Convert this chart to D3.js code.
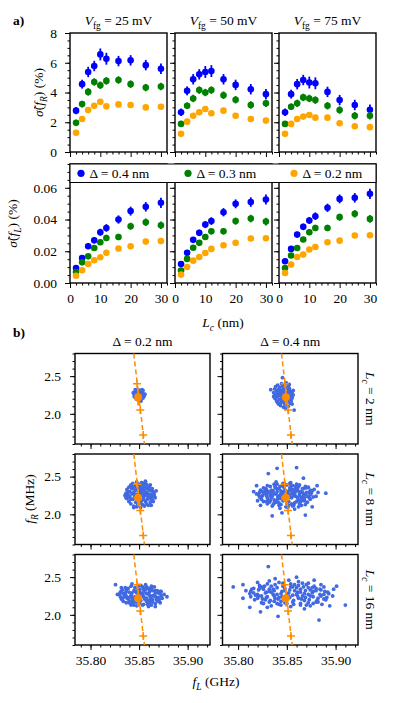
<!DOCTYPE html>
<html>
<head>
<meta charset="utf-8">
<script src="https://cdn.jsdelivr.net/npm/d3@7"></script>
<style>
  body { margin: 0; background: #fff; }
  svg, svg text { font-family: "Liberation Serif", "DejaVu Serif", serif; }
</style>
</head>
<body>
<svg id="chart" width="395" height="703" font-family="Liberation Serif, DejaVu Serif, serif"></svg>
<script>
// ---- panel a) data: channel length L_c (nm) ----
const lengths = [2, 4, 6, 8, 10, 12, 16, 20, 25, 30]
const gateLabels = ['25', '50', '75']
const deltaLabels = ['0.4', '0.3', '0.2']
const deltaColors = ['#0000ff', '#008000', '#ffa500']

// relative spread of f_R (%) per gate voltage and disorder amplitude
const fR25d04 = [2.78, 4.56, 5.38, 5.78, 6.56, 6.27, 6.11, 6.16, 5.84, 5.60]
const fR25d03 = [1.96, 3.22, 4.04, 4.71, 4.49, 4.78, 4.84, 4.56, 4.33, 4.40]
const fR25d02 = [1.29, 2.22, 2.82, 3.11, 3.38, 3.07, 3.20, 3.16, 3.00, 3.04]
const fR50d04 = [2.67, 4.11, 4.89, 5.22, 5.38, 5.44, 4.89, 4.51, 4.22, 3.89]
const fR50d03 = [1.89, 3.11, 3.60, 4.16, 4.00, 4.16, 3.82, 3.51, 3.16, 3.27]
const fR50d02 = [1.22, 2.04, 2.44, 2.67, 2.89, 2.60, 2.78, 2.44, 2.22, 2.11]
const fR75d04 = [2.67, 3.89, 4.56, 4.84, 4.67, 4.62, 4.04, 3.49, 3.16, 2.84]
const fR75d03 = [1.89, 3.04, 3.27, 3.67, 3.60, 3.49, 3.11, 2.82, 2.44, 2.44]
const fR75d02 = [1.22, 1.89, 2.22, 2.38, 2.49, 2.31, 2.31, 1.93, 1.73, 1.67]
const errFRd04 = [0.25, 0.3, 0.35, 0.35, 0.4, 0.4, 0.35, 0.35, 0.35, 0.35]
const errFRd03 = [0.2, 0.22, 0.25, 0.25, 0.25, 0.25, 0.25, 0.25, 0.25, 0.25]
const errFRd02 = [0.08, 0.1, 0.1, 0.12, 0.12, 0.12, 0.12, 0.12, 0.12, 0.12]

// relative spread of f_L (%)
const fL25d04 = [0.0095, 0.0158, 0.0232, 0.0269, 0.0320, 0.0347, 0.0400, 0.0453, 0.0480, 0.0505]
const fL25d03 = [0.0069, 0.0130, 0.0168, 0.0221, 0.0257, 0.0284, 0.0290, 0.0358, 0.0383, 0.0364]
const fL25d02 = [0.0046, 0.0080, 0.0120, 0.0143, 0.0162, 0.0190, 0.0217, 0.0232, 0.0261, 0.0265]
const fL50d04 = [0.0120, 0.0190, 0.0272, 0.0316, 0.0368, 0.0390, 0.0446, 0.0499, 0.0510, 0.0526]
const fL50d03 = [0.0078, 0.0152, 0.0222, 0.0253, 0.0290, 0.0326, 0.0326, 0.0390, 0.0406, 0.0387]
const fL50d02 = [0.0053, 0.0101, 0.0141, 0.0164, 0.0189, 0.0215, 0.0238, 0.0253, 0.0280, 0.0282]
const fL75d04 = [0.0137, 0.0215, 0.0305, 0.0354, 0.0394, 0.0421, 0.0474, 0.0530, 0.0537, 0.0562]
const fL75d03 = [0.0095, 0.0173, 0.0221, 0.0274, 0.0320, 0.0347, 0.0347, 0.0415, 0.0436, 0.0404]
const fL75d02 = [0.0063, 0.0116, 0.0164, 0.0179, 0.0211, 0.0227, 0.0257, 0.0267, 0.0299, 0.0301]
const errFLd04 = [0.0012, 0.0015, 0.0018, 0.002, 0.0022, 0.0024, 0.0026, 0.0028, 0.003, 0.0032]
const errFLd03 = [0.001, 0.0012, 0.0014, 0.0016, 0.0018, 0.002, 0.002, 0.0022, 0.0024, 0.0024]
const errFLd02 = [0.0005, 0.0006, 0.0007, 0.0008, 0.0008, 0.0009, 0.0009, 0.001, 0.001, 0.001]

// ---- panel b) data ----
const bRowLabels = ['2', '8', '16']
const bColLabels = ['0.2', '0.4']
// cloud centres [f_L GHz, f_R MHz]; offsets below are [dfL in MHz, dfR in 10 kHz]
const cloudCentreL2d02 = [35.850, 2.25]
const cloudCentreL2d04 = [35.8465, 2.25]
const cloudCentreL8d02 = [35.8515, 2.26]
const cloudCentreL8d04 = [35.849, 2.26]
const cloudCentreL16d02 = [35.8517, 2.26]
const cloudCentreL16d04 = [35.852, 2.28]

const cloudL2d02 = [[-5, 1], [-4, -3], [-4, 4], [-3, 6], [-3, -1], [-2, -6], [-2, 2], [-1, 7], [-1, -3], [0, 0], [0, 5], [0, -7],
  [1, 3], [1, -2], [2, 6], [2, -5], [2, 1], [3, -1], [3, 4], [4, -4], [4, 2], [5, 0], [5, -2], [-1, 1], [1, -5], [-3, -5],
  [3, 7], [-5, -2], [6, 1], [-2, -1], [0, -3], [2, -8], [-4, 7], [-6, 3], [4, 6]]
const cloudL2d04 = [[-10, 3], [-9, -4], [-9, 8], [-8, 0], [-8, 11], [-7, -8], [-7, 5], [-6, -2], [-6, 13], [-5, -12], [-5, 7],
  [-5, 1], [-4, -6], [-4, 10], [-3, -14], [-3, 3], [-3, -1], [-2, 15], [-2, -9], [-2, 6], [-1, -4], [-1, 12], [-1, 0],
  [0, -16], [0, 8], [0, -7], [0, 3], [1, 14], [1, -11], [1, -2], [2, 5], [2, -13], [2, 10], [3, -5], [3, 1], [3, 16],
  [4, -9], [4, 7], [4, -1], [5, 12], [5, -15], [5, 3], [6, -6], [6, 9], [7, -2], [7, -11], [7, 5], [8, 1], [8, -8],
  [9, 4], [9, -4], [10, 0], [-1, 23], [11, -20], [-13, 7], [-6, -10], [2, -18], [6, 14], [-8, -5], [9, -12], [-10, -2], [10, 6],
  [-7, 1], [-4, 3], [-1, -7], [2, 2], [5, -3], [8, -1], [-6, 6], [3, -8], [0, 10], [-3, -11], [6, 6], [-9, -1], [1, 7], [-2, -1]]
const cloudL8d02 = [[-15, 2], [-14, -5], [-14, 7], [-13, 0], [-12, 10], [-12, -9], [-11, 4], [-11, -3], [-10, 13], [-10, -12],
  [-9, 1], [-9, 8], [-8, -6], [-8, 15], [-7, -15], [-7, 3], [-6, 11], [-6, -2], [-5, -10], [-5, 6], [-4, 17], [-4, -16],
  [-4, 0], [-3, 9], [-3, -7], [-2, 3], [-2, 14], [-2, -12], [-1, -3], [-1, 7], [0, -17], [0, 11], [0, 0], [1, -8], [1, 16],
  [1, 4], [2, -13], [2, 8], [2, -2], [3, 13], [3, -5], [3, 1], [4, -15], [4, 10], [4, 5], [5, -9], [5, -1], [6, 14],
  [6, -12], [6, 3], [7, 8], [7, -6], [8, -14], [8, 1], [8, 11], [9, -3], [9, 6], [10, -10], [10, 13], [11, 0], [11, -6],
  [12, 8], [12, -2], [13, 4], [13, -9], [14, 1], [15, -4], [16, 5], [-16, -1], [5, 18], [-7, -17], [11, -14],
  [-13, 4], [-10, -6], [-7, 8], [-4, -9], [-1, 4], [2, -6], [5, 9], [8, -4], [11, 5], [14, -2], [-12, -2], [-6, 0],
  [0, -11], [6, 0], [12, -7], [-9, 11], [9, 10], [-3, -14], [3, 15], [-15, -4]]
const cloudL8d04 = [[-10, 17], [-3, 15], [5, 16], [11, 14],
  [-19, 12], [-12, 14], [-6, 11], [1, 13], [7, 12], [14, 13], [20, 11],
  [-23, 9], [-16, 11], [-9, 8], [-2, 10], [4, 9], [10, 11], [17, 8], [23, 10],
  [-26, 6], [-20, 7], [-13, 5], [-7, 8], [-1, 6], [6, 7], [12, 5], [18, 8], [25, 6],
  [-27, 3], [-21, 5], [-15, 2], [-9, 4], [-3, 3], [3, 5], [9, 2], [15, 4], [21, 3], [27, 5],
  [-28, 0], [-22, 2], [-16, -1], [-10, 1], [-4, 0], [2, 2], [8, -1], [14, 1], [20, 0], [26, 2],
  [-27, -3], [-20, -1], [-14, -2], [-8, -4], [-2, -1], [4, -3], [10, -2], [16, -4], [22, -2], [28, -3],
  [-25, -6], [-19, -4], [-12, -7], [-6, -5], [0, -6], [6, -4], [13, -7], [19, -5], [25, -6],
  [-23, -9], [-16, -8], [-10, -10], [-3, -8], [3, -9], [9, -11], [16, -8], [22, -10],
  [-19, -12], [-12, -11], [-5, -13], [1, -12], [8, -14], [14, -12], [20, -13],
  [-14, -15], [-7, -14], [0, -16], [7, -15], [13, -16], [-6, -18], [2, -17], [9, -19],
  [-24, 4], [-18, -7], [-11, 9], [-5, 2], [0, -2], [5, 11], [11, -9], [17, 3], [-15, 6], [-8, -2], [3, 0], [12, 8],
  [-20, -9], [24, -4], [-1, 14], [6, -12], [-30, 1], [31, -2], [-33, 4], [33, 3], [-29, -8], [29, 7],
  [-24, -1], [-18, 4], [-12, 1], [-6, -1], [0, 4], [6, 1], [12, -4], [18, -1], [24, 3], [-21, 8], [-15, -4], [-9, -7],
  [-3, 12], [3, -14], [9, 7], [15, -9], [21, 9], [-17, -10], [-11, 11], [-5, 5], [1, -9], [7, 3], [13, 11], [19, -8],
  [-25, -3], [25, 0], [-7, -11], [5, 6], [-13, -13], [16, -14], [-2, -4], [10, 5], [-19, 2], [4, 15], [-9, 14], [14, -1],
  [41, 2], [11, 36], [-14, -28], [20, -27], [-18, 28], [-9, 35], [-4, -24], [18, 22], [-30, 12], [27, -16], [-26, -14], [32, 12]]
const cloudL16d02 = [[-9, 15], [-2, 13], [5, 14], [11, 12],
  [-16, 10], [-10, 12], [-4, 10], [2, 11], [8, 9], [14, 11],
  [-19, 7], [-13, 9], [-7, 6], [-1, 8], [5, 7], [11, 9], [17, 6],
  [-21, 4], [-15, 5], [-9, 3], [-3, 6], [3, 4], [9, 5], [15, 3], [21, 5],
  [-22, 1], [-16, 2], [-10, 0], [-4, 3], [2, 1], [8, 2], [14, 0], [20, 2],
  [-21, -2], [-15, -1], [-9, -3], [-3, -1], [3, -2], [9, 0], [15, -2], [21, -1],
  [-20, -5], [-14, -4], [-8, -6], [-2, -4], [4, -5], [10, -3], [16, -6], [22, -4],
  [-18, -8], [-12, -7], [-6, -9], [0, -7], [6, -8], [12, -6], [18, -8],
  [-15, -10], [-9, -11], [-3, -10], [3, -12], [9, -10], [15, -11],
  [-10, -13], [-4, -14], [2, -13], [8, -15],
  [-12, 4], [-6, -2], [0, 2], [6, -4], [12, 6], [18, -3], [-17, -2], [4, 9], [-1, -11], [11, -13], [-24, 1], [24, 1],
  [-18, 2], [-12, -3], [-6, 5], [0, -2], [6, 2], [12, -1], [18, 3], [-15, 7], [-9, -8], [-3, -6], [3, 8], [9, -7],
  [15, 6], [-19, -4], [19, -6], [-6, 10], [6, 11], [-12, -10], [12, -9], [0, 13], [-1, 5], [-7, -13], [7, -12], [-20, 5], [20, 5],
  [-26, 14], [15, -15], [27, -2], [-20, 10], [20, -10]]
const cloudL16d04 = [[-20, 17], [-10, 15], [0, 18], [10, 16], [20, 14],
  [-30, 11], [-22, 13], [-14, 12], [-6, 10], [2, 13], [10, 11], [18, 12], [26, 10], [33, 12],
  [-36, 7], [-28, 9], [-20, 6], [-12, 8], [-4, 7], [4, 9], [12, 6], [20, 8], [28, 7], [36, 9],
  [-39, 3], [-31, 5], [-23, 2], [-15, 4], [-7, 3], [1, 5], [9, 2], [17, 4], [25, 3], [33, 5], [40, 2],
  [-40, 0], [-32, -1], [-24, 1], [-16, -1], [-8, 0], [0, 1], [8, -1], [16, 0], [24, 1], [32, -1], [41, 0],
  [-39, -4], [-31, -3], [-23, -5], [-15, -3], [-7, -4], [1, -5], [9, -3], [17, -5], [25, -4], [33, -3], [39, -5],
  [-35, -8], [-27, -7], [-19, -9], [-11, -7], [-3, -8], [5, -9], [13, -7], [21, -8], [29, -9], [36, -7],
  [-28, -12], [-20, -11], [-12, -13], [-4, -12], [4, -11], [12, -13], [20, -12], [28, -11],
  [-18, -16], [-8, -15], [2, -17], [12, -15], [22, -16],
  [-26, 6], [-18, 2], [-10, -5], [-2, -1], [6, 4], [14, -3], [22, 5], [30, -6], [-34, -2], [-5, 11], [5, -14], [15, 9],
  [-15, -10], [25, -13], [-25, 10], [37, 3], [-44, 4], [45, -3], [-47, -6], [46, 6], [-14, 20], [8, 22], [26, 18],
  [-32, 15], [34, -14], [-22, -18], [16, -20],
  [-36, 1], [-28, -3], [-20, 3], [-12, -1], [-4, 4], [4, -2], [12, 2], [20, -1], [28, 4], [36, -1], [-32, -6], [-24, -8],
  [-16, 6], [-8, -10], [0, -4], [8, 8], [16, -9], [24, 8], [32, 6], [-30, 7], [-18, 10], [-6, 14], [6, 12], [18, -15],
  [-26, -13], [-10, -14], [10, -6], [30, -11], [-38, 6], [38, -8], [-2, -13], [14, 14], [-22, -4], [22, -3], [-14, -6], [2, 9],
  [-57, 9], [58, -15], [49, 10], [-21, 36], [31, -35], [-40, -18], [-29, -24], [-11, -30], [-47, 12], [42, -16]]

// orange model line, sweep markers and mean (same in every b) panel)
const lineFL = [35.8445, 35.8555]
const lineFR = [2.8, 1.6]
const sweepFL = [35.8478, 35.8512, 35.8542]
const sweepFR = [2.40, 2.05, 1.72]
const meanFL = 35.849
const meanFR = 2.22
const meanErrFR = 0.11

// ---- tick values ----
const lcTicks = [0, 10, 20, 30]
const lcMinor = [2, 4, 6, 8, 12, 14, 16, 18, 22, 24, 26, 28, 32]
const fRPctTicks = [0, 2, 4, 6, 8]
const fLPctTicks = [0, 0.02, 0.04, 0.06]
const fLTicks = [35.80, 35.85, 35.90]
const fRTicks = [2.0, 2.5]

const FS = 13.5
const FONT = 'Liberation Serif, DejaVu Serif, serif'
const svg = d3.select('#chart')

// text with italic parts and subscripts, parts = [[string, kind]]
function richText (parent, parts, size) {
  const t = parent.append('text').attr('font-size', size).attr('font-family', FONT).attr('fill', '#000')
  let shift = 0
  parts.forEach(([s, kind]) => {
    const sub = kind.includes('sub')
    const sp = t.append('tspan').text(s)
    if (kind === 'i' || kind === 'isub') sp.attr('font-style', 'italic')
    if (sub) sp.attr('font-size', size * 0.7)
    const target = sub ? size * 0.3 : 0
    if (target !== shift) { sp.attr('dy', target - shift); shift = target }
  })
  return t
}

function styleAxis (sel) {
  sel.select('.domain').remove()
  sel.attr('font-family', FONT).attr('font-size', FS)
  sel.selectAll('line').attr('stroke', '#000').attr('stroke-width', 1)
  sel.selectAll('text').attr('fill', '#000')
}

// ticks + frame for one panel
function drawAxes (g, x, y, o) {
  const [x0, x1] = x.range()
  const [yb, yt] = y.range()
  const noLabel = () => ''
  g.append('g').attr('transform', `translate(0,${yb})`)
    .call(d3.axisBottom(x).tickValues(o.xMinor).tickSize(2.5).tickFormat(noLabel)).call(styleAxis)
  g.append('g').attr('transform', `translate(0,${yb})`)
    .call(d3.axisBottom(x).tickValues(o.xMajor).tickSize(5).tickPadding(5).tickFormat(o.xFormat || noLabel)).call(styleAxis)
  g.append('g').attr('transform', `translate(${x0},0)`)
    .call(d3.axisLeft(y).tickValues(o.yMinor).tickSize(2.5).tickFormat(noLabel)).call(styleAxis)
  g.append('g').attr('transform', `translate(${x0},0)`)
    .call(d3.axisLeft(y).tickValues(o.yMajor).tickSize(5).tickPadding(o.yPad || 8).tickFormat(o.yFormat || noLabel)).call(styleAxis)
  g.append('rect').attr('x', x0).attr('y', yt).attr('width', x1 - x0).attr('height', yb - yt)
    .attr('fill', 'none').attr('stroke', '#000').attr('stroke-width', 1.4)
}

// ================= panel a) =================
const aCols = [[70, 167], [175, 272], [279, 376]]
const aRows = [[33, 152], [164, 283]]
const fRSets = [[fR25d04, fR25d03, fR25d02], [fR50d04, fR50d03, fR50d02], [fR75d04, fR75d03, fR75d02]]
const fLSets = [[fL25d04, fL25d03, fL25d02], [fL50d04, fL50d03, fL50d02], [fL75d04, fL75d03, fL75d02]]
const errFR = [errFRd04, errFRd03, errFRd02]
const errFL = [errFLd04, errFLd03, errFLd02]

const aRowCfg = [
  { domain: [0, 8], major: fRPctTicks, minor: d3.range(0, 8.01, 0.5), fmt: d3.format('d'), sets: fRSets, errs: errFR },
  { domain: [0, 0.075], major: fLPctTicks, minor: d3.range(0, 0.0751, 0.005), fmt: d3.format('.2f'), sets: fLSets, errs: errFL }
]

aRowCfg.forEach((rc, ri) => {
  aCols.forEach((col, ci) => {
    const g = svg.append('g')
    const x = d3.scaleLinear().domain([0, 32]).range(col)
    const y = d3.scaleLinear().domain(rc.domain).range([aRows[ri][1], aRows[ri][0]])
    drawAxes(g, x, y, {
      xMajor: lcTicks, xMinor: lcMinor, xFormat: ri === 1 ? d3.format('d') : null,
      yMajor: rc.major, yMinor: rc.minor, yFormat: ci === 0 ? rc.fmt : null
    })
    rc.sets[ci].forEach((vals, si) => {
      const s = g.append('g')
      s.selectAll('line').data(vals).join('line')
        .attr('x1', (d, i) => x(lengths[i])).attr('x2', (d, i) => x(lengths[i]))
        .attr('y1', (d, i) => y(d - rc.errs[si][i])).attr('y2', (d, i) => y(d + rc.errs[si][i]))
        .attr('stroke', deltaColors[si]).attr('stroke-width', 1.8)
      s.selectAll('circle').data(vals).join('circle')
        .attr('cx', (d, i) => x(lengths[i])).attr('cy', d => y(d))
        .attr('r', 3.3).attr('fill', deltaColors[si])
    })
  })
})

// column titles
aCols.forEach((col, ci) => {
  richText(svg, [['V', 'i'], ['fg', 'sub'], [` = ${gateLabels[ci]} mV`, '']], FS)
    .attr('x', (col[0] + col[1]) / 2).attr('y', 25).attr('text-anchor', 'middle')
})

// legend (drawn over the top of the lower row)
const leg = svg.append('g')
leg.append('rect').attr('x', 70).attr('y', 164).attr('width', 306).attr('height', 18.5)
  .attr('fill', '#fff').attr('stroke', '#000').attr('stroke-width', 1)
const legX = [81, 188, 294]
deltaLabels.forEach((d, i) => {
  leg.append('circle').attr('cx', legX[i]).attr('cy', 173.3).attr('r', 3.6).attr('fill', deltaColors[i])
  leg.append('text').attr('x', legX[i] + 8.5).attr('y', 177.5).attr('font-size', FS).attr('font-family', FONT)
    .text(`Δ = ${d} nm`)
})

svg.append('text').attr('x', 13).attr('y', 25).attr('font-size', FS).attr('font-family', FONT)
  .attr('font-weight', 'bold').text('a)')
richText(svg, [['σ̃', 'i'], ['(', ''], ['f', 'i'], ['R', 'isub'], [') (%)', '']], FS)
  .attr('text-anchor', 'middle').attr('transform', 'translate(43,92.5) rotate(-90)')
richText(svg, [['σ̃', 'i'], ['(', ''], ['f', 'i'], ['L', 'isub'], [') (%)', '']], FS)
  .attr('text-anchor', 'middle').attr('transform', 'translate(17,223.5) rotate(-90)')
richText(svg, [['L', 'i'], ['c', 'isub'], [' (nm)', '']], FS)
  .attr('x', 223).attr('y', 327).attr('text-anchor', 'middle')

// ================= panel b) =================
const bCols = [[75, 210], [222.5, 358]]
const bRows = [[353.5, 444], [454, 544.5], [554.5, 645]]
const clouds = [[cloudL2d02, cloudL2d04], [cloudL8d02, cloudL8d04], [cloudL16d02, cloudL16d04]]
const centres = [[cloudCentreL2d02, cloudCentreL2d04], [cloudCentreL8d02, cloudCentreL8d04], [cloudCentreL16d02, cloudCentreL16d04]]
const orange = '#ff8c00'

bRows.forEach((row, ri) => {
  bCols.forEach((col, ci) => {
    const g = svg.append('g')
    const x = d3.scaleLinear().domain([35.784, 35.923]).range(col)
    const y = d3.scaleLinear().domain([1.6, 2.8]).range([row[1], row[0]])
    drawAxes(g, x, y, {
      xMajor: fLTicks, xMinor: d3.range(35.79, 35.9201, 0.01), xFormat: ri === 2 ? d3.format('.2f') : null,
      yMajor: fRTicks, yMinor: d3.range(1.6, 2.801, 0.1), yFormat: ci === 0 ? d3.format('.1f') : null, yPad: 9
    })
    const c = centres[ri][ci]
    g.append('g').selectAll('circle').data(clouds[ri][ci]).join('circle')
      .attr('cx', d => x(c[0] + d[0] / 1000)).attr('cy', d => y(c[1] + d[1] / 100))
      .attr('r', 1.9).attr('fill', '#4169e1')
    g.append('line')
      .attr('x1', x(lineFL[0])).attr('y1', y(lineFR[0])).attr('x2', x(lineFL[1])).attr('y2', y(lineFR[1]))
      .attr('stroke', orange).attr('stroke-width', 1.5).attr('stroke-dasharray', '5,3')
    g.append('g').selectAll('path').data(sweepFL).join('path')
      .attr('transform', (d, i) => `translate(${x(d)},${y(sweepFR[i])})`)
      .attr('d', 'M-4,0H4M0,-4V4').attr('stroke', orange).attr('stroke-width', 1.5)
    g.append('line').attr('x1', x(meanFL)).attr('x2', x(meanFL))
      .attr('y1', y(meanFR - meanErrFR)).attr('y2', y(meanFR + meanErrFR))
      .attr('stroke', orange).attr('stroke-width', 1.8)
    g.append('circle').attr('cx', x(meanFL)).attr('cy', y(meanFR)).attr('r', 4).attr('fill', orange)
  })
})

bCols.forEach((col, ci) => {
  svg.append('text').attr('x', (col[0] + col[1]) / 2).attr('y', 346).attr('text-anchor', 'middle')
    .attr('font-size', FS).attr('font-family', FONT).text(`Δ = ${bColLabels[ci]} nm`)
})
bRows.forEach((row, ri) => {
  richText(svg, [['L', 'i'], ['c', 'isub'], [` = ${bRowLabels[ri]} nm`, '']], FS)
    .attr('text-anchor', 'middle').attr('transform', `translate(366,${(row[0] + row[1]) / 2}) rotate(90)`)
})
svg.append('text').attr('x', 13).attr('y', 337).attr('font-size', FS).attr('font-family', FONT)
  .attr('font-weight', 'bold').text('b)')
richText(svg, [['f', 'i'], ['R', 'isub'], [' (MHz)', '']], FS)
  .attr('text-anchor', 'middle').attr('transform', 'translate(34,499) rotate(-90)')
richText(svg, [['f', 'i'], ['L', 'isub'], [' (GHz)', '']], FS)
  .attr('x', 216).attr('y', 686).attr('text-anchor', 'middle')
</script>
</body>
</html>
